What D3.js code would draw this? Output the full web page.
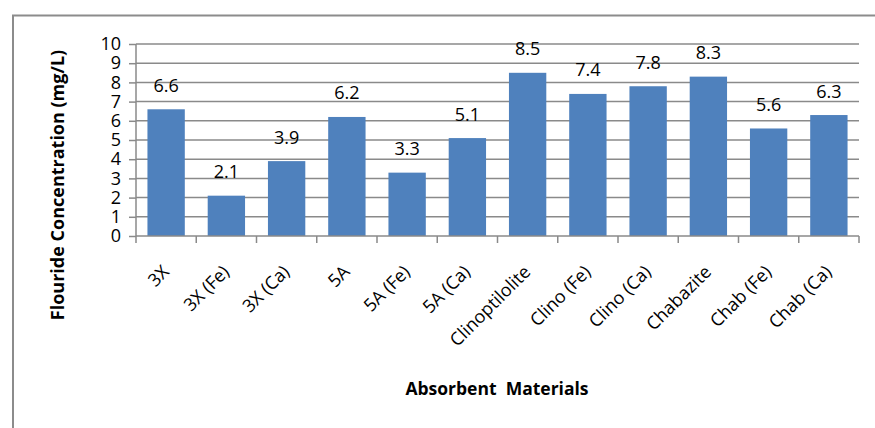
<!DOCTYPE html>
<html>
<head>
<meta charset="utf-8">
<script src="https://cdn.jsdelivr.net/npm/d3@7"></script>
<style>
  html, body { margin: 0; padding: 0; background: #fff; }
  svg { display: block; font-family: "Open Sans", "Noto Sans", sans-serif; }
</style>
</head>
<body>
<svg id="chart" width="875" height="428"></svg>
<script>
const categories = ["3X", "3X (Fe)", "3X (Ca)", "5A", "5A (Fe)", "5A (Ca)",
  "Clinoptilolite", "Clino (Fe)", "Clino (Ca)", "Chabazite", "Chab (Fe)", "Chab (Ca)"];
const fluoride = [6.6, 2.1, 3.9, 6.2, 3.3, 5.1, 8.5, 7.4, 7.8, 8.3, 5.6, 6.3];
const yTicks = [0, 1, 2, 3, 4, 5, 6, 7, 8, 9, 10];

const svg = d3.select("#chart");
const margin = { left: 136, top: 44 };
const plotW = 859 - margin.left;
const plotH = 236 - margin.top;
const FONT = "'Open Sans', 'Noto Sans', sans-serif";

// outer chart frame
svg.append("rect")
  .attr("x", 13).attr("y", 15.5)
  .attr("width", 880).attr("height", 430)
  .attr("fill", "none").attr("stroke", "#8c8c8c").attr("stroke-width", 2);

const g = svg.append("g").attr("transform", `translate(${margin.left},${margin.top})`);

const x = d3.scaleBand().domain(categories).range([0, plotW]).paddingInner(0.38).paddingOuter(0.19);
const y = d3.scaleLinear().domain([0, 10]).range([plotH, 0]);

// horizontal gridlines
g.append("g").selectAll("line").data(yTicks.filter(d => d > 0)).join("line")
  .attr("x1", 0).attr("x2", plotW)
  .attr("y1", d => y(d)).attr("y2", d => y(d))
  .attr("stroke", "#8a8a8a").attr("stroke-width", 1.5);

// bars
g.append("g").selectAll("rect").data(fluoride).join("rect")
  .attr("x", (d, i) => x(categories[i]))
  .attr("y", d => y(d))
  .attr("width", x.bandwidth())
  .attr("height", d => plotH - y(d))
  .attr("fill", "#4f81bd");

// value labels above bars
g.append("g").selectAll("text").data(fluoride).join("text")
  .attr("x", (d, i) => x(categories[i]) + x.bandwidth() / 2)
  .attr("y", d => y(d) - 17.5)
  .attr("text-anchor", "middle")
  .attr("font-size", 18)
  .attr("fill", "#000")
  .text(d => d.toFixed(1));

// y axis
const yAxis = g.append("g").call(d3.axisLeft(y).tickValues(yTicks).tickSize(7).tickPadding(8));
yAxis.select(".domain").attr("stroke", "#8a8a8a").attr("stroke-width", 1.5).attr("d", `M0,0V${plotH}`);
yAxis.selectAll(".tick line").attr("stroke", "#8a8a8a").attr("stroke-width", 1.5);
yAxis.selectAll(".tick text").attr("font-size", 18).attr("fill", "#000")
  .attr("font-family", FONT);

// x axis with ticks on category boundaries
const xAxisG = g.append("g").attr("transform", `translate(0,${plotH})`);
xAxisG.append("line").attr("x1", 0).attr("x2", plotW)
  .attr("stroke", "#8a8a8a").attr("stroke-width", 1.5);
xAxisG.selectAll("line.bt").data(d3.range(categories.length + 1)).join("line")
  .attr("class", "bt")
  .attr("x1", i => i * x.step()).attr("x2", i => i * x.step())
  .attr("y1", 0).attr("y2", 7)
  .attr("stroke", "#8a8a8a").attr("stroke-width", 1.5);

xAxisG.selectAll("text").data(categories).join("text")
  .attr("transform", d => `translate(${x(d) + x.bandwidth() / 2 + 4},37) rotate(-45)`)
  .attr("text-anchor", "end")
  .attr("font-size", 18)
  .attr("fill", "#000")
  .text(d => d);

// axis titles
svg.append("text")
  .attr("transform", `translate(64,185) rotate(-90)`)
  .attr("text-anchor", "middle")
  .attr("font-size", 18).attr("font-weight", "bold")
  .text("Flouride Concentration (mg/L)");

svg.append("text")
  .attr("x", 497).attr("y", 395)
  .attr("text-anchor", "middle")
  .attr("font-size", 17.5).attr("font-weight", "bold")
  .style("white-space", "pre")
  .text("Absorbent  Materials");
</script>
</body>
</html>
